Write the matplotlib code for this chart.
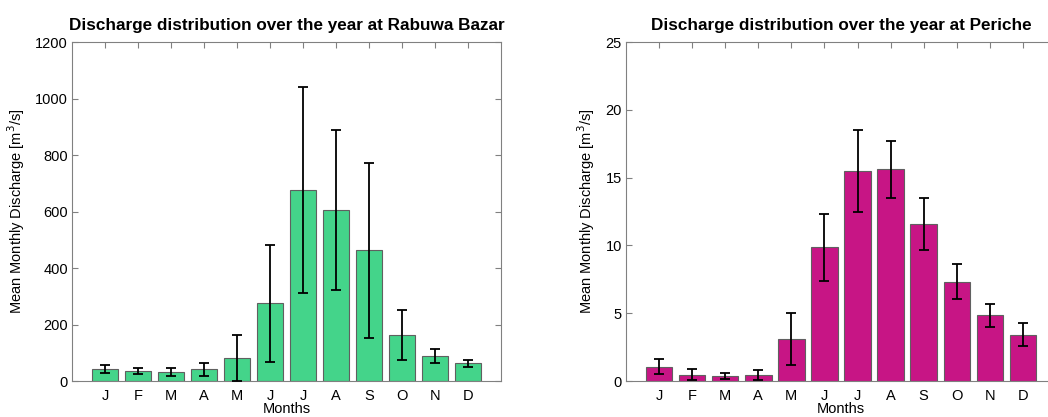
import numpy as np
import matplotlib
matplotlib.use('Agg')
import matplotlib.pyplot as plt

plt.rcParams['font.family'] = ['Liberation Sans', 'DejaVu Sans']

months = ['J', 'F', 'M', 'A', 'M', 'J', 'J', 'A', 'S', 'O', 'N', 'D']

# Rabuwa Bazar, mean and std of monthly discharge [m3/s]
rabuwa_mean = [44, 35, 32, 41, 81, 275, 677, 604, 463, 163, 87, 62]
rabuwa_err = [14, 11, 14, 22, 82, 207, 365, 283, 309, 89, 25, 14]

# Periche
periche_mean = [1.06, 0.47, 0.35, 0.43, 3.08, 9.88, 15.49, 15.61, 11.6, 7.33, 4.84, 3.42]
periche_err = [0.54, 0.39, 0.21, 0.39, 1.9, 2.47, 3.04, 2.11, 1.92, 1.28, 0.87, 0.83]


def plot_station(ax, mean, err, color, ymax, ystep, title):
    x = np.arange(1, len(months) + 1)
    ax.bar(x, mean, width=0.8, color=color, edgecolor='#606060', linewidth=0.8, zorder=2)
    ax.errorbar(x, mean, yerr=err, fmt='none', ecolor='black', elinewidth=1.3,
                capsize=3.5, capthick=1.3, zorder=3)
    ax.set_xlim(0, 13)
    ax.set_ylim(0, ymax)
    ax.set_xticks(x)
    ax.set_xticklabels(months)
    ax.set_yticks(np.arange(0, ymax + ystep / 2, ystep))
    ax.tick_params(direction='in', top=True, right=True, labelsize=10.5,
                   length=4, color='#808080')
    ax.tick_params(axis='x', pad=6)
    ax.tick_params(axis='y', pad=3)
    for sp in ax.spines.values():
        sp.set_color('#808080')
    ax.set_xlabel('Months', fontsize=10.5, labelpad=-1)
    ax.set_ylabel('Mean Monthly Discharge [m$^3$/s]', fontsize=10.5, labelpad=6)
    ax.set_title(title, fontsize=12.3, fontweight='bold', pad=9)


fig = plt.figure(figsize=(10.48, 4.17), dpi=100)
ax1 = fig.add_axes([0.0687, 0.0863, 0.4094, 0.8129])
ax2 = fig.add_axes([0.5973, 0.0863, 0.4103, 0.8129])

plot_station(ax1, rabuwa_mean, rabuwa_err, '#44D48A', 1200, 200,
             'Discharge distribution over the year at Rabuwa Bazar')
plot_station(ax2, periche_mean, periche_err, '#C71585', 25, 5,
             'Discharge distribution over the year at Periche')

fig.savefig('out.png', dpi=100)
